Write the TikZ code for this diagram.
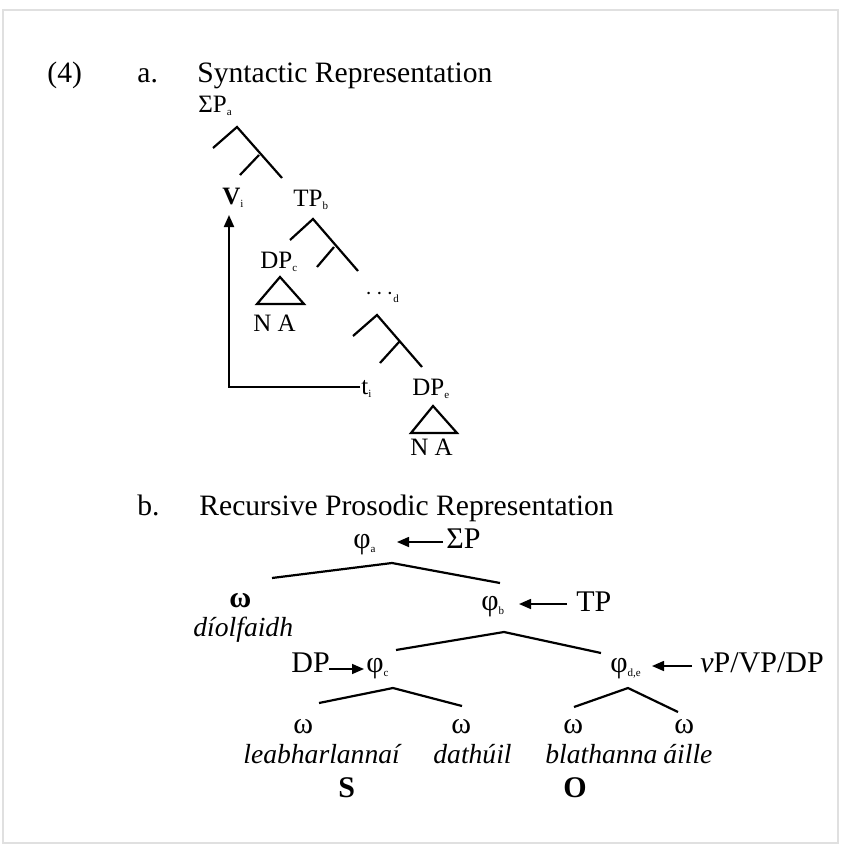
\documentclass[tikz,border=0pt]{standalone}
\usepackage{fontspec}
\setmainfont{Liberation Serif}
\usetikzlibrary{arrows.meta}
\newcommand\lsub[1]{\raisebox{-0.3ex}{\fontsize{5.5}{6}\selectfont #1}}
\begin{document}
\begin{tikzpicture}[x=0.5pt,y=-0.5pt,
  ttl/.style={font=\fontsize{14.8}{18}\selectfont, anchor=base west, inner sep=0},
  alab/.style={font=\fontsize{12.5}{15}\selectfont, anchor=base west, inner sep=0},
  blab/.style={font=\fontsize{15}{18}\selectfont, anchor=base west, inner sep=0},
  wrd/.style={font=\fontsize{13.8}{16}\selectfont\itshape, anchor=base west, inner sep=0},
  br/.style={line width=1.1pt},
  arr/.style={line width=0.8pt, -{Triangle[length=6pt,width=5pt]}}]
\useasboundingbox (0,0) rectangle (841,846);
\draw[black!12, line width=1pt] (3,10) rectangle (838,843);
% titles
\node[ttl] (n4) at (47,82) {(4)};
\node[ttl] (na) at (137,82) {a.};
\node[ttl] (ta) at (197,82) {Syntactic Representation};
\node[ttl] (nb) at (137,515) {b.};
\node[ttl] (tb) at (199,515) {Recursive Prosodic Representation};
% part a labels
\node[alab] (sp) at (198,112) {ΣP\lsub{a}};
\node[alab] (vi) at (222,204) {\textbf{V}\lsub{i}};
\node[alab] (tp) at (293,206) {TP\lsub{b}};
\node[alab] (dpc) at (260,268) {DP\lsub{c}};
\node[alab] (na1) at (253,331) {N A};
\node[alab] (dots) at (365,299) {$\cdots$\lsub{d}};
\node[alab] (ti) at (361,394) {t\lsub{i}};
\node[alab] (dpe) at (412,395) {DP\lsub{e}};
\node[alab] (na2) at (410,455) {N A};
% part a branches
\coordinate (s0) at (237,127); \coordinate (s1) at (213,148); \coordinate (s2) at (282,178);
\coordinate (s3) at (259,155); \coordinate (s4) at (240,175);
\draw[br] (s1) -- (s0) -- (s2) (s3) -- (s4);
\coordinate (t0) at (313,219); \coordinate (t1) at (290,240); \coordinate (t2) at (358,271);
\coordinate (t3) at (334,247); \coordinate (t4) at (317,267);
\draw[br] (t1) -- (t0) -- (t2) (t3) -- (t4);
\coordinate (d0) at (377,315); \coordinate (d1) at (353,336); \coordinate (d2) at (422,367);
\coordinate (d3) at (399,342); \coordinate (d4) at (380,363);
\draw[br] (d1) -- (d0) -- (d2) (d3) -- (d4);
\draw[br] (280,277) -- (257,304) -- (304,304) -- cycle;
\draw[br] (433,406) -- (411,433) -- (457,433) -- cycle;
% movement arrow
\coordinate (mv0) at (360,387); \coordinate (mvc) at (229,387); \coordinate (mvt) at (229,215);
\draw[arr, line width=1pt] (mv0) -- (mvc) -- (mvt);
% part b labels
\node[blab] (pa) at (353,548) {φ\lsub{a}};
\node[blab] (sp2) at (446,548) {ΣP};
\node[blab] (om0) at (229,607) {\textbf{ω}};
\node[wrd] (w0) at (193,636) {díolfaidh};
\node[blab] (pb) at (481,610) {φ\lsub{b}};
\node[blab] (tp2) at (576,611) {TP};
\node[blab] (dp2) at (291,672) {DP};
\node[blab] (pc) at (366,672) {φ\lsub{c}};
\node[blab] (pde) at (610,672) {φ\lsub{d,e}};
\node[blab] (vp) at (700,672) {\textit{v}P/VP/DP};
\node[blab] (o1) at (293,733) {ω};
\node[blab] (o2) at (451,733) {ω};
\node[blab] (o3) at (563,733) {ω};
\node[blab] (o4) at (674,733) {ω};
\node[wrd] (w1) at (243,763) {leabharlannaí};
\node[wrd] (w2) at (433,763) {dathúil};
\node[wrd] (w3) at (545,763) {blathanna};
\node[wrd] (w4) at (663,763) {áille};
\node[blab] (S) at (338,797) {\textbf{S}};
\node[blab] (O) at (563,797) {\textbf{O}};
% part b arrows
\draw[arr] (443,542) -- (397,542);
\draw[arr] (567,604) -- (519,604);
\draw[arr] (329,669) -- (364,669);
\draw[arr] (692,666) -- (652,666);
% part b branches
\draw[br] (272,578) -- (392,563) -- (500,583);
\draw[br] (396,650) -- (504,632) -- (601,653);
\draw[br] (319,703) -- (393,688) -- (462,706);
\draw[br] (574,707) -- (628,688) -- (678,712);
\end{tikzpicture}
\end{document}
